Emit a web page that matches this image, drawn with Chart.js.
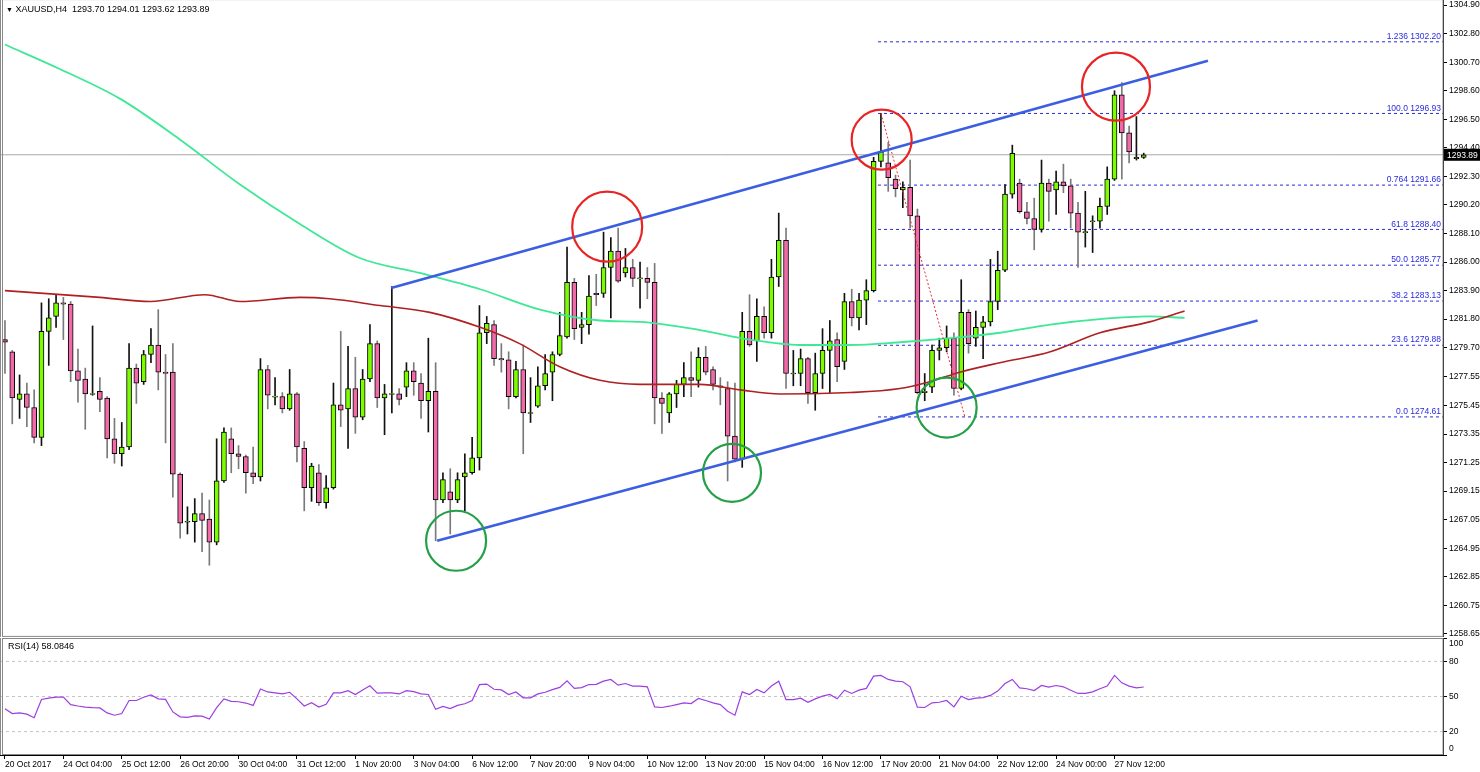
<!DOCTYPE html>
<html>
<head>
<meta charset="utf-8">
<script src="https://cdn.jsdelivr.net/npm/chart.js@4.4.0/dist/chart.umd.min.js"></script>
<style>
  body { margin: 0; background: #fff; width: 1480px; height: 772px; overflow: hidden; font-family: "Liberation Sans", sans-serif; }
  #main { position: absolute; left: 0; top: -8px; width: 1480px; height: 652px; }
  #rsi { position: absolute; left: 0; top: 630px; width: 1480px; height: 142px; }
  .lbl { position: absolute; font-size: 9px; color: #000; white-space: pre; }
</style>
</head>
<body>
<div id="main"><canvas id="c1"></canvas></div>
<div id="rsi"><canvas id="c2"></canvas></div>
<div class="lbl" style="left:6px;top:4px"><span style="font-size:7px">▼</span> XAUUSD,H4  1293.70 1294.01 1293.62 1293.89</div>
<div class="lbl" style="left:8px;top:641px">RSI(14) 58.0846</div>
<script>
// XAUUSD H4 candles, one entry per bar (index 0 = 20 Oct 2017)
const opens = [1280.3,1279.4,1275.9,1276.3,1275.3,1273.1,1280.9,1282.0,1283.0,1282.9,
  1278.0,1277.4,1276.3,1276.5,1276.0,1273.0,1271.9,1272.4,1278.2,1277.2,
  1279.2,1279.9,1277.9,1277.9,1270.4,1266.9,1266.9,1267.5,1267.1,1265.4,
  1269.9,1273.0,1271.9,1271.7,1270.5,1270.2,1278.1,1276.1,1276.1,1275.2,
  1276.3,1272.3,1269.4,1270.5,1268.3,1269.4,1275.5,1275.2,1276.7,1274.6,
  1277.4,1280.0,1276.0,1276.3,1276.3,1276.8,1278.0,1277.1,1275.8,1276.5,
  1268.5,1269.1,1268.5,1270.2,1270.5,1271.6,1280.8,1281.4,1278.9,1278.8,
  1276.1,1278.1,1274.9,1275.4,1276.9,1277.9,1279.2,1280.5,1284.5,1281.2,
  1281.4,1283.7,1283.7,1285.6,1286.8,1285.2,1285.6,1284.8,1284.8,1284.5,
  1276.0,1274.9,1276.3,1277.0,1277.5,1277.3,1279.0,1278.1,1276.9,1276.7,
  1273.2,1271.5,1280.9,1280.2,1282.0,1280.8,1284.9,1287.6,1277.8,1277.8,
  1278.9,1276.4,1277.8,1279.5,1280.3,1278.7,1283.1,1281.9,1283.2,1283.9,
  1293.4,1293.3,1292.1,1291.3,1291.5,1289.4,1276.4,1276.8,1279.5,1279.7,
  1280.4,1276.7,1282.3,1280.4,1281.2,1281.6,1283.1,1285.4,1291.0,1291.8,
  1289.7,1289.2,1288.4,1291.8,1291.3,1291.9,1291.6,1289.6,1288.2,1289.0,
  1289.0,1290.1,1292.1,1298.3,1295.5,1293.6,1293.70];
const highs = [1281.7,1279.5,1277.7,1277.1,1276.6,1283.0,1283.3,1283.6,1283.4,1283.1,
  1279.6,1278.2,1281.3,1277.5,1276.1,1274.5,1274.2,1280.0,1278.5,1279.5,
  1281.1,1282.5,1279.2,1280.0,1270.5,1268.0,1268.6,1269.0,1268.5,1273.0,
  1273.8,1273.8,1272.5,1271.8,1272.4,1278.9,1278.4,1277.5,1276.4,1278.1,
  1276.4,1272.8,1271.2,1271.1,1270.3,1277.1,1280.9,1279.8,1279.0,1278.1,
  1281.4,1280.2,1277.0,1284.2,1276.7,1278.6,1278.6,1277.8,1280.4,1278.6,
  1270.5,1270.8,1270.5,1271.9,1273.1,1282.8,1282.0,1281.7,1280.0,1279.4,
  1278.7,1279.9,1277.5,1278.3,1279.2,1279.4,1282.3,1287.1,1284.8,1282.3,
  1285.0,1285.1,1288.2,1287.8,1288.5,1287.0,1286.2,1286.0,1285.6,1285.9,
  1276.4,1276.4,1277.3,1278.6,1279.4,1279.7,1279.8,1278.3,1277.5,1277.2,
  1277.1,1282.3,1283.6,1283.3,1282.7,1286.2,1289.6,1288.5,1279.5,1279.6,
  1279.0,1279.3,1281.1,1281.7,1280.8,1283.7,1284.0,1283.7,1284.7,1293.7,
  1296.93,1294.8,1292.4,1291.9,1293.5,1289.9,1277.8,1279.9,1280.4,1281.3,
  1280.8,1284.7,1282.5,1282.4,1282.0,1286.2,1286.8,1291.7,1294.6,1292.1,
  1290.4,1290.7,1293.5,1292.1,1292.7,1293.2,1292.1,1290.4,1291.2,1289.4,
  1290.7,1293.0,1298.6,1299.2,1296.0,1296.7,1294.01];
const lows = [1277.8,1274.1,1274.5,1273.9,1272.7,1272.5,1278.4,1281.2,1280.3,1277.2,
  1275.7,1273.7,1276.2,1275.0,1271.6,1271.2,1271.0,1272.2,1275.6,1277.0,
  1278.6,1276.6,1272.7,1268.7,1265.7,1266.0,1265.4,1264.7,1263.7,1265.2,
  1269.8,1270.5,1270.8,1269.0,1269.7,1269.9,1275.2,1275.5,1274.9,1275.1,
  1271.3,1267.7,1268.4,1268.1,1267.9,1269.3,1273.9,1272.3,1273.4,1274.4,
  1277.2,1275.3,1273.3,1274.9,1275.5,1276.1,1276.2,1274.5,1273.5,1265.5,
  1268.3,1266.0,1268.3,1267.7,1270.4,1270.7,1280.0,1278.4,1277.9,1275.2,
  1276.0,1271.9,1274.2,1275.3,1276.6,1275.8,1279.1,1280.4,1280.3,1280.0,
  1280.7,1282.8,1283.4,1281.9,1284.5,1284.9,1284.2,1282.6,1283.3,1274.1,
  1273.4,1274.2,1275.3,1276.1,1276.1,1276.8,1277.7,1276.6,1275.5,1269.9,
  1271.3,1270.9,1279.8,1278.7,1280.4,1280.4,1284.2,1276.7,1276.9,1276.9,
  1275.6,1275.1,1276.7,1276.4,1277.2,1278.1,1281.3,1281.0,1281.4,1283.8,
  1293.0,1291.2,1290.8,1290.0,1288.5,1276.3,1275.8,1276.4,1278.8,1279.4,
  1276.2,1276.6,1279.3,1279.8,1278.9,1281.3,1282.5,1285.3,1290.7,1289.6,
  1288.8,1286.9,1288.2,1289.0,1289.5,1291.1,1288.5,1285.6,1287.1,1286.7,
  1288.5,1289.5,1292.0,1292.1,1293.3,1293.5,1293.62];
const closes = [1280.1,1276.0,1276.3,1275.3,1273.1,1280.9,1281.9,1283.0,1282.9,1278.0,
  1277.3,1276.3,1276.3,1275.9,1273.0,1271.9,1272.4,1278.2,1277.1,1279.2,
  1279.9,1277.9,1277.8,1270.4,1266.8,1266.9,1267.5,1267.0,1265.4,1269.9,
  1273.5,1271.9,1271.7,1270.5,1270.2,1278.1,1276.2,1276.1,1275.2,1276.3,
  1272.4,1269.4,1271.0,1268.3,1269.4,1275.5,1275.1,1276.7,1274.6,1277.4,
  1280.0,1276.0,1276.3,1276.3,1275.9,1278.0,1277.2,1275.8,1276.5,1268.5,
  1270.0,1268.5,1270.0,1270.5,1271.6,1280.8,1281.5,1278.9,1278.8,1276.1,
  1278.1,1274.9,1274.9,1276.9,1277.8,1279.2,1280.6,1284.5,1281.1,1281.4,
  1283.5,1283.6,1285.6,1286.8,1284.6,1285.6,1284.8,1284.8,1284.5,1276.0,
  1275.6,1276.3,1277.0,1277.5,1277.3,1279.0,1277.9,1277.0,1276.8,1273.2,
  1271.5,1280.9,1279.9,1282.0,1280.8,1284.9,1287.6,1277.8,1277.8,1278.9,
  1276.4,1277.8,1279.5,1280.2,1278.3,1283.1,1281.9,1283.2,1283.9,1293.4,
  1294.1,1292.2,1291.4,1291.5,1289.4,1276.4,1276.5,1279.5,1279.7,1280.4,
  1276.7,1282.3,1280.0,1281.2,1281.6,1283.1,1285.4,1291.0,1294.0,1289.7,
  1289.2,1288.4,1291.8,1291.2,1291.9,1291.6,1289.6,1288.2,1288.2,1289.0,
  1290.1,1292.1,1298.3,1295.5,1294.1,1293.7,1293.89];

// moving averages (bar index, price)
const maSlowIdx = [0,13,19.9,27.4,32.2,40.4,44.5,51.4,58.2,65.1,70.5,76,81.5,87,95.2,100.7,106.2,115.8,122.6,126.7,130.8,136.3,143.2,150,156.8,161.6];
const maSlowVal = [1283.9,1283.4,1283.1,1283.6,1283.1,1283.4,1283.3,1282.8,1282.3,1281.2,1280.0,1278.3,1277.3,1277.0,1277.0,1276.6,1276.3,1276.4,1276.7,1277.2,1277.9,1278.6,1279.4,1280.8,1281.6,1282.4];
const maLongIdx = [0,7.5,15.8,24,32.2,40.4,48.6,56.8,65.1,73.3,81.5,87,95.2,102,108.9,115.8,122.6,129.5,136.3,143.2,150,156.8,161.6];
const maLongVal = [1302.0,1300.2,1298.0,1295.0,1291.7,1288.8,1286.3,1285.2,1284.0,1282.5,1281.7,1281.6,1281.0,1280.3,1279.9,1279.9,1280.1,1280.4,1280.8,1281.4,1281.8,1282.0,1281.9];

// channel lines
const chanUpperIdx = [52.9, 164.8], chanUpperVal = [1284.1, 1300.8];
const chanLowerIdx = [59.2, 171.6], chanLowerVal = [1265.5, 1281.7];

// fibonacci levels
const fibNames = ["1.236","100.0","0.764","61.8","50.0","38.2","23.6","0.0"];
const fibLevels = [1302.20,1296.93,1291.66,1288.40,1285.77,1283.13,1279.88,1274.61];
const fibStart = 119.6;
const fibDiagIdx = [120, 131.5], fibDiagVal = [1296.93, 1274.61];
const lastPrice = 1293.89;

// highlighted swing points
const ringIdx = [82.5, 120.1, 152.2, 61.8, 99.6, 129];
const ringVal = [1288.6, 1295.0, 1298.9, 1265.5, 1270.5, 1275.3];
const ringRadius = [35, 30, 34, 30, 29, 30];
const ringColor = ["#e82424","#e82424","#e82424","#23a047","#23a047","#23a047"];

const priceTicks = [1258.65,1260.75,1262.85,1264.95,1267.05,1269.15,1271.25,1273.35,1275.45,1277.55,1279.70,1281.80,1283.90,1286.00,1288.10,1290.20,1292.30,1294.40,1296.50,1298.60,1300.70,1302.80,1304.90];

const rsiValues = [39.6,35.4,36.0,34.9,31.8,47.5,48.6,49.4,49.4,43.0,
  41.9,41.0,40.5,40.2,36.0,34.0,35.4,46.6,46.6,49.4,
  51.4,48.0,47.5,36.8,32.6,32.1,33.5,33.2,30.7,40.5,
  48.0,45.8,45.5,44.4,42.4,56.4,53.9,53.1,52.2,53.6,
  48.0,41.9,44.7,41.0,43.3,53.1,53.1,55.0,51.7,55.6,
  59.2,52.8,53.1,53.1,52.2,55.0,54.2,52.2,51.7,39.1,
  41.6,39.6,42.4,43.8,46.6,60.1,60.6,56.2,55.6,51.7,
  53.9,48.9,48.9,52.2,53.6,55.9,57.8,63.4,57.0,57.6,
  60.2,60.4,63.1,64.6,59.7,61.1,58.9,58.9,58.3,41.1,
  40.6,41.7,43.1,44.6,44.0,48.3,46.6,44.6,43.1,37.4,
  34.0,54.0,51.7,56.0,53.1,58.9,63.1,47.4,47.4,48.6,
  45.1,48.0,50.3,51.7,48.0,55.4,52.6,55.4,56.9,67.4,
  68.0,64.6,63.1,62.6,58.3,40.9,40.6,44.6,45.1,46.6,
  41.1,50.3,47.4,48.6,49.1,50.9,54.6,61.1,64.6,57.4,
  56.6,55.1,59.4,58.0,59.4,58.3,55.4,52.6,52.6,54.0,
  56.6,58.9,68.0,61.7,58.9,57.4,58.1];
const rsiLevels = [80, 50, 20];
const rsiTicks = [0, 20, 50, 80, 100];

const dateTickIdx = [0,8,16,24,32,40,48,56,64,72,80,88,96,104,112,120,128,136,144,152];
const dateLabels = ["20 Oct 2017","24 Oct 04:00","25 Oct 12:00","26 Oct 20:00","30 Oct 04:00","31 Oct 12:00","1 Nov 20:00","3 Nov 04:00","6 Nov 12:00","7 Nov 20:00","9 Nov 04:00","10 Nov 12:00","13 Nov 20:00","15 Nov 04:00","16 Nov 12:00","17 Nov 20:00","21 Nov 04:00","22 Nov 12:00","24 Nov 00:00","27 Nov 12:00"];

const X_MIN = -0.68, X_MAX = 197.0;
const FONT = { family: "Liberation Sans", size: 8.5 };

const pts = (xs, ys) => xs.map((x, k) => ({ x: x, y: ys[k] }));
const isBull = i => closes[i] >= opens[i];

const wickData = opens.map((_, i) => ({ x: i, y: [lows[i], highs[i]] }));
const bodyData = opens.map((_, i) => {
  let a = opens[i], b = closes[i];
  if (Math.abs(a - b) < 0.06) { a -= 0.035; b += 0.035; }
  return { x: i, y: [a, b] };
});

const fibSets = fibLevels.map(v => ({
  type: "line", data: [{ x: fibStart, y: v }, { x: X_MAX, y: v }],
  borderColor: "#2a2ae0", borderWidth: 1, borderDash: [3, 3], pointRadius: 0, order: 5
}));

const frame = {
  id: "frame",
  afterDraw(chart) {
    const { ctx, chartArea: a } = chart;
    ctx.save();
    ctx.strokeStyle = "#8a8a8a";
    ctx.lineWidth = 1;
    ctx.strokeRect(a.left + 2.5, a.top + 0.5, a.right - a.left - 2.5, a.bottom - a.top - 1);
    ctx.beginPath(); ctx.moveTo(a.left + 0.5, a.top); ctx.lineTo(a.left + 0.5, a.bottom); ctx.stroke();
    ctx.restore();
  }
};

const overlay = {
  id: "overlay",
  afterDatasetsDraw(chart) {
    const { ctx, scales: { x, y }, chartArea: a } = chart;
    ctx.save();
    // rings
    ctx.lineWidth = 2.2;
    ringIdx.forEach((v, k) => {
      ctx.strokeStyle = ringColor[k];
      ctx.beginPath();
      ctx.arc(x.getPixelForValue(v), y.getPixelForValue(ringVal[k]), ringRadius[k], 0, Math.PI * 2);
      ctx.stroke();
    });
    // fib labels
    ctx.fillStyle = "#2a2ae0";
    ctx.font = "8.5px 'Liberation Sans'";
    ctx.textAlign = "right";
    ctx.textBaseline = "bottom";
    fibLevels.forEach((v, k) => {
      ctx.fillText(fibNames[k] + " " + v.toFixed(2), a.right - 2, y.getPixelForValue(v) - 1);
    });
    // last price tag
    const py = y.getPixelForValue(lastPrice);
    ctx.fillStyle = "#000";
    ctx.fillRect(a.right + 1, py - 6, 36, 12);
    ctx.fillStyle = "#fff";
    ctx.textAlign = "left";
    ctx.textBaseline = "middle";
    ctx.fillText(lastPrice.toFixed(2), a.right + 4, py + 0.5);
    ctx.restore();
  }
};

// RSI scale labels: the end labels sit inside the panel, as in the terminal
const rsiLabels = {
  id: "rsiLabels",
  afterDraw(chart) {
    const { ctx, scales: { y }, chartArea: a } = chart;
    ctx.save();
    ctx.fillStyle = "#000";
    ctx.font = "8.5px 'Liberation Sans'";
    ctx.textAlign = "left";
    ctx.textBaseline = "middle";
    rsiTicks.forEach(v => {
      let py = y.getPixelForValue(v);
      if (v === 100) py += 6;
      if (v === 0) py -= 6;
      ctx.fillText(String(v), a.right + 6, py);
    });
    ctx.restore();
  }
};

new Chart(document.getElementById("c1"), {
  data: {
    datasets: [
      { type: "line", data: [{ x: X_MIN, y: lastPrice }, { x: X_MAX, y: lastPrice }],
        borderColor: "#a8a8a8", borderWidth: 1, pointRadius: 0, order: 6 },
      ...fibSets,
      { type: "bar", data: wickData, grouped: false, barThickness: 1,
        backgroundColor: opens.map((_, i) => isBull(i) ? "#111" : "#7a7a7a"), order: 4 },
      { type: "bar", data: bodyData, grouped: false, barThickness: 5,
        backgroundColor: opens.map((_, i) => isBull(i) ? "#7cfc00" : "#f06aa8"),
        borderColor: "#000", borderWidth: 1, borderSkipped: false, order: 3 },
      { type: "line", data: pts(maSlowIdx, maSlowVal), borderColor: "#b02020", borderWidth: 1.6,
        pointRadius: 0, cubicInterpolationMode: "monotone", order: 2 },
      { type: "line", data: pts(maLongIdx, maLongVal), borderColor: "#3ee896", borderWidth: 1.8,
        pointRadius: 0, cubicInterpolationMode: "monotone", order: 2 },
      { type: "line", data: pts(fibDiagIdx, fibDiagVal), borderColor: "#e83030", borderWidth: 1,
        borderDash: [2, 2], pointRadius: 0, order: 1 },
      { type: "line", data: pts(chanUpperIdx, chanUpperVal), borderColor: "#3b5fe0", borderWidth: 2.6,
        pointRadius: 0, order: 0 },
      { type: "line", data: pts(chanLowerIdx, chanLowerVal), borderColor: "#3b5fe0", borderWidth: 2.6,
        pointRadius: 0, order: 0 }
    ]
  },
  options: {
    responsive: true, maintainAspectRatio: false, animation: false,
    layout: { padding: 0 },
    plugins: { legend: { display: false }, tooltip: { enabled: false } },
    scales: {
      x: { type: "linear", min: X_MIN, max: X_MAX, offset: false, display: false },
      y: {
        position: "right", min: 1258.43, max: 1305.34,
        afterFit: s => { s.width = 37; },
        afterBuildTicks: s => { s.ticks = priceTicks.map(v => ({ value: v })); },
        ticks: { autoSkip: false, color: "#000", font: FONT, padding: 2, callback: v => v.toFixed(2) },
        grid: { drawOnChartArea: false, tickLength: 4, color: "#000" },
        border: { color: "#000" }
      }
    }
  },
  plugins: [frame, overlay]
});

new Chart(document.getElementById("c2"), {
  data: {
    datasets: [
      ...rsiLevels.map(v => ({ type: "line", data: [{ x: X_MIN, y: v }, { x: X_MAX, y: v }],
        borderColor: "#c4c4c4", borderWidth: 1, borderDash: [3, 3], pointRadius: 0, order: 2 })),
      { type: "line", data: rsiValues.map((v, i) => ({ x: i, y: v })), borderColor: "#9b3fe0",
        borderWidth: 1.2, pointRadius: 0, order: 1 }
    ]
  },
  options: {
    responsive: true, maintainAspectRatio: false, animation: false,
    layout: { padding: { top: 8, left: 0, right: 0, bottom: 0 } },
    plugins: { legend: { display: false }, tooltip: { enabled: false } },
    scales: {
      x: {
        type: "linear", min: X_MIN, max: X_MAX, offset: false,
        afterFit: s => { s.height = 17; },
        afterBuildTicks: s => { s.ticks = dateTickIdx.map(v => ({ value: v })); },
        ticks: { autoSkip: false, maxRotation: 0, align: "start", color: "#000", font: FONT, padding: 1,
          callback: v => dateLabels[dateTickIdx.indexOf(v)] },
        grid: { drawOnChartArea: false, tickLength: 4, color: "#000" },
        border: { color: "#000" }
      },
      y: {
        position: "right", min: 0, max: 100,
        afterFit: s => { s.width = 37; },
        afterBuildTicks: s => { s.ticks = rsiTicks.map(v => ({ value: v })); },
        ticks: { autoSkip: false, color: "#000", font: FONT, padding: 2, callback: () => "" },
        grid: { drawOnChartArea: false, tickLength: 4, color: "#000" },
        border: { color: "#000" }
      }
    }
  },
  plugins: [frame, rsiLabels]
});
</script>
</body>
</html>
